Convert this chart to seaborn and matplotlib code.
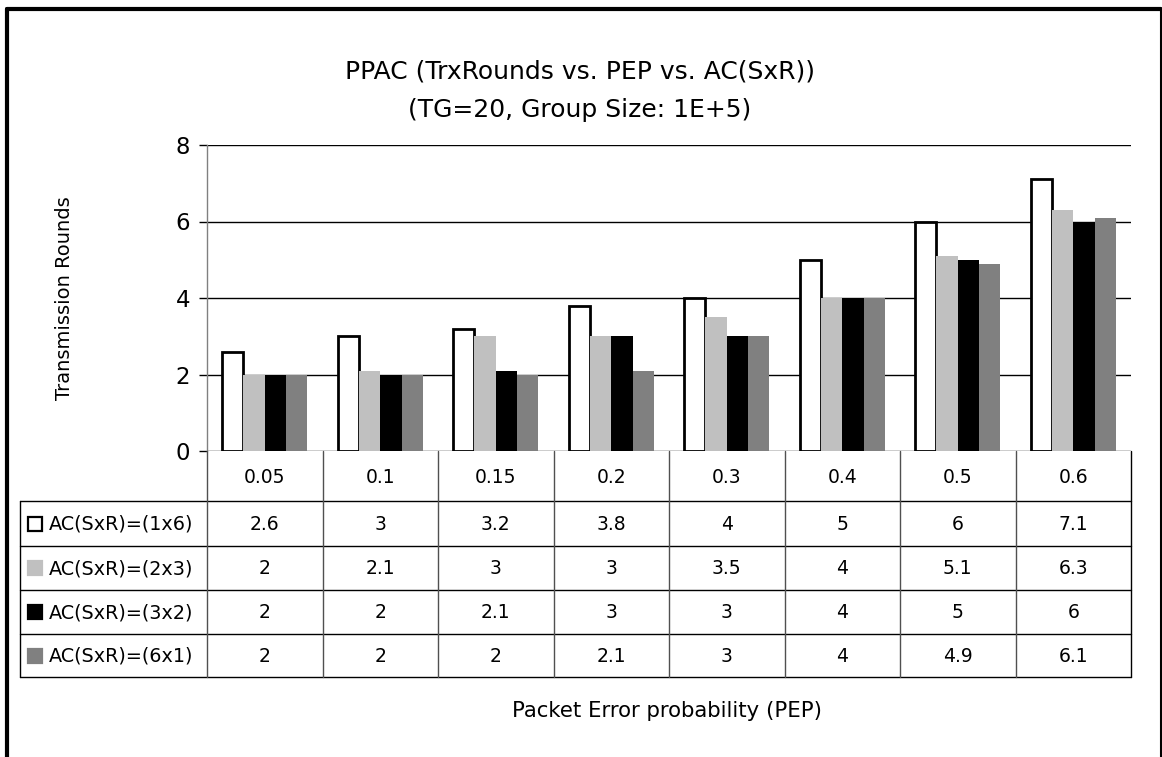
import numpy as np
import pandas as pd
import matplotlib
matplotlib.use("Agg")
import matplotlib.pyplot as plt
from matplotlib.lines import Line2D
from matplotlib.patches import Rectangle
import seaborn as sns

# Packet error probabilities (x categories)
pep_labels = ["0.05", "0.1", "0.15", "0.2", "0.3", "0.4", "0.5", "0.6"]

# Antenna configurations (series)
configs = ["AC(SxR)=(1x6)", "AC(SxR)=(2x3)", "AC(SxR)=(3x2)", "AC(SxR)=(6x1)"]

# Transmission rounds per configuration
rounds_1x6 = [2.6, 3, 3.2, 3.8, 4, 5, 6, 7.1]
rounds_2x3 = [2, 2.1, 3, 3, 3.5, 4, 5.1, 6.3]
rounds_3x2 = [2, 2, 2.1, 3, 3, 4, 5, 6]
rounds_6x1 = [2, 2, 2, 2.1, 3, 4, 4.9, 6.1]
series = [rounds_1x6, rounds_2x3, rounds_3x2, rounds_6x1]

colors = ["#ffffff", "#c0c0c0", "#000000", "#808080"]

df = pd.DataFrame({
    "PEP": np.tile(pep_labels, len(configs)),
    "config": np.repeat(configs, len(pep_labels)),
    "rounds": np.concatenate(series),
})

sns.set_theme(style="white")
plt.rcParams["font.family"] = ["DejaVu Sans"]

W, H = 1162, 757
fig = plt.figure(figsize=(W / 100, H / 100), dpi=100)


def fx(px):
    return px / W


def fy(py):
    return 1 - py / H


# Plot area
left_px, right_px, top_px, zero_px = 207, 1131, 145, 451
ax = fig.add_axes([fx(left_px), fy(zero_px), fx(right_px - left_px), (zero_px - top_px) / H])
sns.barplot(data=df, x="PEP", y="rounds", hue="config", order=pep_labels,
            hue_order=configs, palette=colors, width=0.74, saturation=1,
            legend=False, ax=ax, zorder=3)

n_cat = len(pep_labels)
for i, bar in enumerate(ax.patches[:n_cat * len(configs)]):
    if i < n_cat:
        bar.set_edgecolor("black")
        bar.set_linewidth(2.0)
    else:
        bar.set_linewidth(0)

ax.set_xlim(-0.5, n_cat - 0.5)
ax.set_ylim(0, 8)
ax.set_yticks(range(0, 9, 2))
ax.yaxis.grid(True, color="black", linewidth=1.0, zorder=0)
ax.set_axisbelow(True)
ax.set_xlabel("")
ax.set_ylabel("")
ax.tick_params(axis="x", length=0, labelbottom=False)
ax.tick_params(axis="y", left=True, length=6, width=1, color="black",
               pad=6, labelsize=16.5, labelcolor="black")
for s in ["top", "right", "bottom"]:
    ax.spines[s].set_visible(False)
ax.spines["left"].set_color("#808080")
ax.spines["left"].set_linewidth(1.0)
ax.set_facecolor("white")

# Data table under the plot area
tab_left_px, tab_bottom_px = 20, 677
row_edges = [451, 501, 546, 590, 634, 677]
tab = fig.add_axes([fx(tab_left_px), fy(tab_bottom_px),
                    fx(right_px - tab_left_px), (tab_bottom_px - zero_px) / H])
unit = (right_px - left_px) / n_cat
x_lo = -0.5 - (left_px - tab_left_px) / unit
tab.set_xlim(x_lo, n_cat - 0.5)
tab.set_ylim(tab_bottom_px, zero_px)
tab.axis("off")

line_kw = dict(color="black", linewidth=1.0, clip_on=False)
grey_kw = dict(color="#505050", linewidth=1.0, clip_on=False)
# horizontal rules
for y in row_edges[1:]:
    tab.plot([x_lo, n_cat - 0.5], [y, y], **line_kw)
# vertical rules
tab.plot([x_lo, x_lo], [row_edges[1], row_edges[-1]], **line_kw)
for k in range(n_cat + 1):
    xk = -0.5 + k
    kw = line_kw if k == n_cat else grey_kw
    tab.plot([xk, xk], [row_edges[0], row_edges[-1]], **kw)

# header row: category labels
hdr_y = (row_edges[0] + row_edges[1]) / 2
for i, lab in enumerate(pep_labels):
    tab.text(i, hdr_y + 1, lab, ha="center", va="center", fontsize=13.5, color="black")

# series rows
key_w = 14 / unit
for r, (name, vals, col) in enumerate(zip(configs, series, colors)):
    yc = (row_edges[r + 1] + row_edges[r + 2]) / 2
    kx = x_lo + 8 / unit
    tab.add_patch(Rectangle((kx, yc - 7), key_w, 14, facecolor=col,
                            edgecolor="black" if col == "#ffffff" else col,
                            linewidth=1.6, clip_on=False))
    tab.text(x_lo + 29 / unit, yc + 1, name, ha="left", va="center",
             fontsize=13.8, color="black")
    for i, v in enumerate(vals):
        tab.text(i, yc + 1, f"{v:g}", ha="center", va="center", fontsize=13.5, color="black")

# Titles and axis labels
fig.text(fx(580), fy(71), "PPAC (TrxRounds vs. PEP vs. AC(SxR))", ha="center",
         va="center", fontsize=18, color="black")
fig.text(fx(580), fy(110), "(TG=20, Group Size: 1E+5)", ha="center",
         va="center", fontsize=18, color="black")
fig.text(fx(65), fy(298), "Transmission Rounds", rotation=90, ha="center",
         va="center", fontsize=14, color="black")
fig.text(fx(667), fy(711), "Packet Error probability (PEP)", ha="center",
         va="center", fontsize=15.3, color="black")

# Chart frame (left, top, right edges)
fig.add_artist(Line2D([fx(7), fx(7)], [0, fy(9)], color="black", linewidth=3.0))
fig.add_artist(Line2D([fx(7), fx(1161)], [fy(9), fy(9)], color="black", linewidth=3.0))
fig.add_artist(Line2D([fx(1160.5), fx(1160.5)], [0, fy(9)], color="black", linewidth=1.5))

fig.savefig("out.png", dpi=100, facecolor="white")
